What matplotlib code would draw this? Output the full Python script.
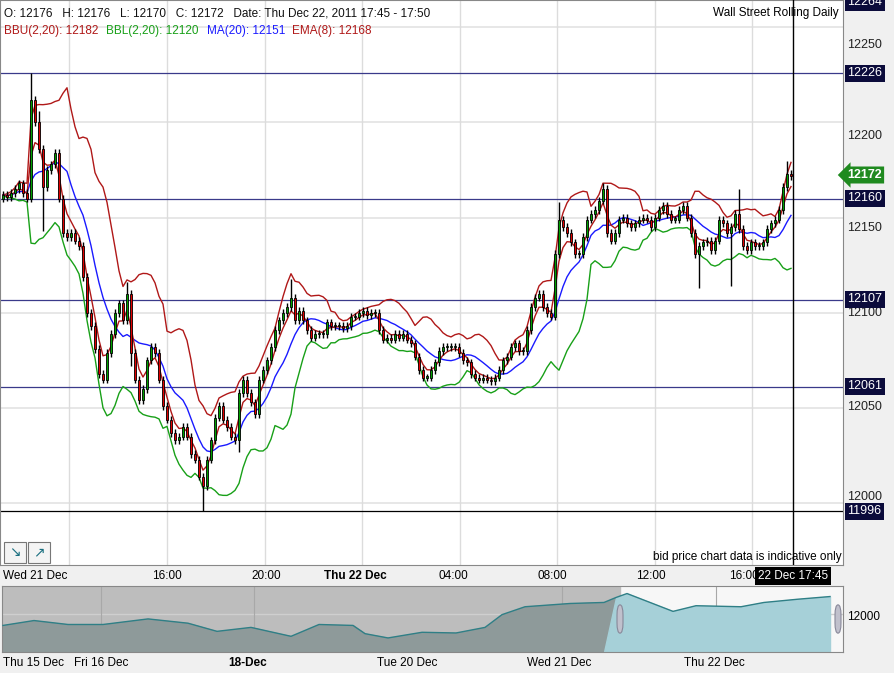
import numpy as np
import pandas as pd
import matplotlib
matplotlib.use("Agg")
import matplotlib.pyplot as plt
from matplotlib.patches import Rectangle, FancyBboxPatch

plt.rcParams['font.family'] = ['Liberation Sans', 'DejaVu Sans']

W, H = 894, 673

# closes of ~10-minute bars, Wed 21 Dec 09:15 -> Thu 22 Dec 17:45
closes = [12162, 12161, 12163, 12165, 12168, 12163, 12160, 12212, 12200, 12186,
          12166, 12175, 12178, 12184, 12160,
          12142, 12140, 12142, 12138, 12135, 12119, 12100, 12093, 12081, 12068,
          12065, 12079, 12089, 12100, 12105, 12096, 12110, 12079, 12065, 12054,
          12060, 12075, 12082, 12079, 12065, 12051, 12044, 12037, 12033, 12035,
          12040, 12035, 12026, 12023, 12014, 12009, 12023, 12033, 12045, 12051,
          12044, 12040, 12035, 12033, 12058, 12065, 12058, 12053, 12047, 12065,
          12070, 12075, 12082, 12091, 12096, 12100, 12103, 12108, 12096,
          12101, 12096, 12091, 12087, 12089, 12089, 12089, 12095, 12093, 12093,
          12093, 12092, 12093, 12098, 12098, 12100, 12101, 12099, 12100, 12100,
          12091, 12086, 12087, 12086, 12089, 12087, 12089, 12086, 12084, 12077,
          12070, 12066, 12066, 12070, 12074, 12080, 12082, 12082, 12082, 12082,
          12079, 12075, 12074, 12068, 12066, 12065, 12066, 12065, 12064, 12066,
          12070, 12075, 12077, 12082, 12084, 12080, 12080, 12091, 12103, 12108,
          12110, 12103, 12100, 12098, 12131, 12149, 12145, 12142, 12137, 12131,
          12131, 12140, 12149, 12152, 12154, 12159, 12165, 12142, 12138, 12142,
          12149, 12150, 12147, 12145, 12147, 12149, 12150, 12149, 12145, 12150,
          12154, 12156, 12152, 12149, 12149, 12154, 12156, 12150, 12142, 12131,
          12135, 12137, 12138, 12133, 12138, 12149, 12147, 12142, 12145, 12152,
          12144, 12135, 12133, 12137, 12135, 12135, 12137, 12144, 12147, 12149,
          12154, 12166, 12173, 12172]
first_open = 12160
wick = 2
# notable wick extremes (bar index: price)
spike_high = {7: 12226, 9: 12206, 31: 12116, 72: 12118, 139: 12158, 150: 12168, 184: 12165, 196: 12180}
spike_low = {10: 12143, 32: 12072, 50: 11996, 59: 12027, 174: 12113, 182: 12114}

# overview navigator series (pixel x, price)
nav_x = [3, 34, 68, 103, 148, 188, 217, 251, 291, 319, 353, 365, 388, 422, 456,
         485, 502, 525, 570, 604, 616, 627, 650, 673, 696, 741, 764, 798, 830]
nav_y = [11870, 11927, 11881, 11881, 11946, 11896, 11801, 11847, 11743, 11881, 11870, 11774,
         11724, 11790, 11782, 11847, 11996, 12088, 12126, 12138, 12196, 12242, 12138, 12034,
         12100, 12088, 12138, 12176, 12207]

price_marks = [12226, 12160, 12107, 12061, 11996]
plain_ticks = [12250, 12200, 12150, 12100, 12050, 12000]

n = len(closes)
idx = np.arange(n)
c = np.array(closes, float)
o = np.concatenate([[first_open], c[:-1]])
hi = np.maximum(o, c) + wick
lo = np.minimum(o, c) - wick
for k, v in spike_high.items():
    hi[k] = v
for k, v in spike_low.items():
    lo[k] = v

s = pd.Series(c)
ma = s.rolling(10, min_periods=1).mean()
sd = s.rolling(10, min_periods=1).std(ddof=0)
bbu = ma + 2 * sd
bbl = ma - 2 * sd
ema = s.ewm(span=4, adjust=False).mean()

fig = plt.figure(figsize=(W / 100, H / 100), dpi=100)
fig.patch.set_facecolor('#f0f0f0')


def fx(x):
    return x / W


def fy(y):
    return 1 - y / H


def px_to_i(x):
    return (x - 3) / 4.0


ax = fig.add_axes([0, fy(565), fx(843), 565 / H])
ax.set_facecolor('white')
ax.set_xlim(px_to_i(0), px_to_i(843))
ax.set_ylim(11967.6, 12264.3)
ax.set_xticks([])
ax.set_yticks([])
for sp in ax.spines.values():
    sp.set_color('#888888')

for v in plain_ticks:
    ax.axhline(v, color='#e3e3e3', lw=1.2, zorder=0)
for xp in [69, 167, 265, 362, 460, 557, 655, 752]:
    ax.axvline(px_to_i(xp), color='#dcdcdc', lw=1, zorder=0)
for v in price_marks:
    ax.axhline(v, color='black' if v == 11996 else '#3a3a8a', lw=0.9, zorder=1)

ax.plot(idx, bbu, color='#b01818', lw=1, zorder=2)
ax.plot(idx, bbl, color='#18a018', lw=1, zorder=2)
ax.plot(idx, ma, color='#1a1aff', lw=1, zorder=2)
ax.plot(idx, ema, color='#b01818', lw=1, zorder=2)

ax.vlines(idx, lo, hi, color='black', lw=1, zorder=3)
cols = np.where(c >= o, '#00a000', '#e00000')
ax.bar(idx, np.maximum(np.abs(c - o), 0.6), bottom=np.minimum(o, c), width=0.7,
       color=cols, edgecolor='black', lw=0.6, zorder=4)
ax.axvline(px_to_i(793), color='black', lw=1, zorder=5)

# header texts
fig.text(fx(4), fy(13), 'O: 12176   H: 12176   L: 12170   C: 12172   Date: Thu Dec 22, 2011 17:45 - 17:50',
         fontsize=8.5, va='center', color='#111111')
x0 = 4
for txt, col in [('BBU(2,20): 12182', '#b01818'), ('BBL(2,20): 12120', '#18a018'),
                 ('MA(20): 12151', '#1a1aff'), ('EMA(8): 12168', '#b01818')]:
    fig.text(fx(x0), fy(31), txt, fontsize=8.5, va='center', color=col)
    x0 += len(txt) * 5.6 + 12
fig.text(fx(839), fy(13), 'Wall Street Rolling Daily', fontsize=8.5, va='center', ha='right')
fig.text(fx(842), fy(557), 'bid price chart data is indicative only', fontsize=8.5, va='center', ha='right')

# buttons
for bx in [4, 28]:
    fig.patches.append(Rectangle((fx(bx), fy(563)), 22 / W, 21 / H, transform=fig.transFigure,
                                 facecolor='#f4f4f4', edgecolor='#777777', lw=0.8))
fig.text(fx(15), fy(552), '\u2198', fontsize=10, ha='center', va='center', color='#1a6f80')
fig.text(fx(39), fy(552), '\u2197', fontsize=10, ha='center', va='center', color='#1a6f80')

# right axis labels
for v, y in zip(plain_ticks, [45, 136, 228, 313, 407, 497]):
    fig.text(fx(847), fy(y), str(v), fontsize=9, va='center', color='#222222')
fig.text(fx(847), fy(2), '12264', fontsize=9, va='center', color='white',
         bbox=dict(boxstyle='square,pad=0.2', fc='#0b0b3b', ec='none'))
for v, y in zip(price_marks, [73, 198, 299, 386, 511]):
    fig.text(fx(847), fy(y), str(v), fontsize=9, va='center', color='white',
             bbox=dict(boxstyle='square,pad=0.2', fc='#0b0b3b', ec='none'))
fig.text(fx(847), fy(175), '12172', fontsize=9, va='center', color='white', weight='bold',
         bbox=dict(boxstyle='larrow,pad=0.2', fc='#1f8a1f', ec='none'))

# time labels
fig.text(fx(3), fy(576), 'Wed 21 Dec', fontsize=8.5, va='center')
for t, xp, b in [('16:00', 167, False), ('20:00', 266, False), ('Thu 22 Dec', 355, True),
                 ('04:00', 453, False), ('08:00', 552, False), ('12:00', 651, False), ('16:00', 744, False)]:
    fig.text(fx(xp), fy(576), t, fontsize=8.5, va='center', ha='center', weight='bold' if b else 'normal')
fig.text(fx(793), fy(576), '22 Dec 17:45', fontsize=8.5, va='center', ha='center', color='white',
         bbox=dict(boxstyle='square,pad=0.25', fc='black', ec='none'))

# navigator
nav = fig.add_axes([fx(2), fy(652), (843 - 2) / W, 66 / H])
nav.set_xlim(2, 843)
nav.set_ylim(11560, 12330)
nav.set_xticks([])
nav.set_yticks([])
for sp in nav.spines.values():
    sp.set_color('#888888')
nav.set_facecolor('#f7f7f7')
nav.axvspan(2, 620, color='#bdbdbd', zorder=0)
nav.axhline(12000, color='#cfcfcf', lw=1, zorder=1)
for xp in [101, 254, 562, 716]:
    nav.axvline(xp, color='#a8a8a8', lw=0.8, zorder=1)
nx = np.array(nav_x, float)
ny = np.array(nav_y, float)
left = nx <= 620
nav.fill_between(nx, 11560, ny, where=nx <= 621, color='#8e9a9a', zorder=2, interpolate=True)
nav.fill_between(nx, 11560, ny, where=nx >= 616, color='#a6d0d8', zorder=2, interpolate=True)
nav.plot(nx, ny, color='#2f7f86', lw=1, zorder=3)
for hx in [620, 838]:
    nav.add_patch(FancyBboxPatch((hx - 3, 11780), 6, 330, boxstyle='round,pad=0,rounding_size=3',
                                 fc='#c0c0cc', ec='#888899', lw=0.8, zorder=4, mutation_aspect=40))
fig.text(fx(847), fy(617), '12000', fontsize=8.5, va='center')
for t, xp, b in [('Thu 15 Dec', 3, False), ('Fri 16 Dec', 74, False), ('18-Dec', 228, True),
                 ('Tue 20 Dec', 377, False), ('Wed 21 Dec', 527, False), ('Thu 22 Dec', 684, False)]:
    fig.text(fx(xp), fy(663), t, fontsize=8.5, va='center', weight='bold' if b else 'normal')

fig.savefig('out.png', dpi=100, facecolor=fig.get_facecolor())
